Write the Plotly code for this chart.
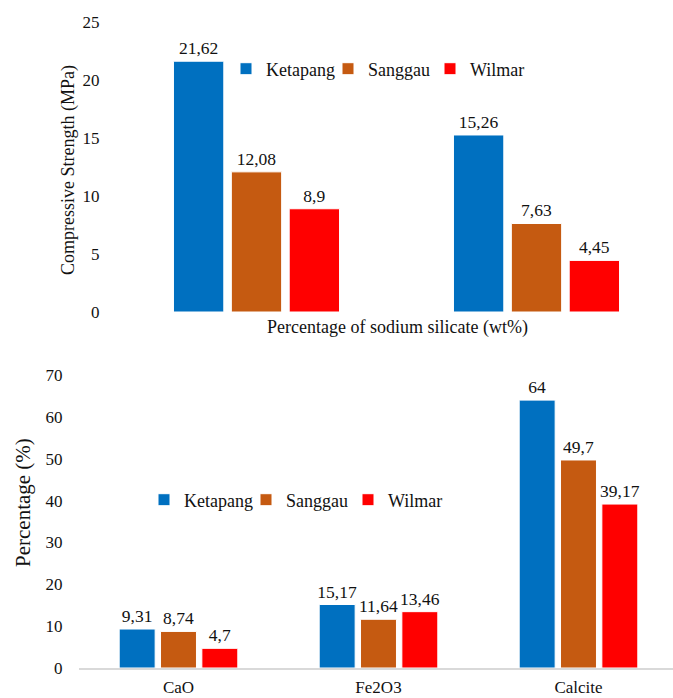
import plotly.graph_objects as go

series = ["Ketapang", "Sanggau", "Wilmar"]
colors = ["#0070C0", "#C55A11", "#FF0000"]

# Top chart: compressive strength (two unlabeled groups)
top_categories = ["A", "B"]
top_values = {
    "Ketapang": [21.62, 15.26],
    "Sanggau": [12.08, 7.63],
    "Wilmar": [8.9, 4.45],
}

# Bottom chart: composition percentage
bot_categories = ["CaO", "Fe2O3", "Calcite"]
bot_values = {
    "Ketapang": [9.31, 15.17, 64],
    "Sanggau": [8.74, 11.64, 49.7],
    "Wilmar": [4.7, 13.46, 39.17],
}

top_ticks = [0, 5, 10, 15, 20, 25]
bot_ticks = [0, 10, 20, 30, 40, 50, 60, 70]

W, H = 673, 698
FONT = "Times New Roman, Liberation Serif, serif"
TXT = "#111111"


def fmt(v):
    return ("%g" % v).replace(".", ",")


fig = go.Figure()
for name, col in zip(series, colors):
    fig.add_trace(go.Bar(
        x=top_categories, y=top_values[name], name=name,
        marker=dict(color=col, line=dict(color="white", width=1)),
        text=[fmt(v) for v in top_values[name]], textposition="outside",
        constraintext="none",
        textfont=dict(family=FONT, size=17.5, color=TXT),
        cliponaxis=False, xaxis="x", yaxis="y", legend="legend",
    ))
for name, col in zip(series, colors):
    fig.add_trace(go.Bar(
        x=bot_categories, y=bot_values[name], name=name,
        marker=dict(color=col, line=dict(color="white", width=1)),
        text=[fmt(v) for v in bot_values[name]], textposition="outside",
        constraintext="none",
        textfont=dict(family=FONT, size=17.5, color=TXT),
        cliponaxis=False, xaxis="x2", yaxis="y2", legend="legend2",
    ))

top_left = 116.5
bot_left = 78.5
leg_common = dict(orientation="h", xanchor="left", yanchor="middle",
                  font=dict(family=FONT, size=18), bgcolor="rgba(0,0,0,0)",
                  itemwidth=30, traceorder="normal",
                  entrywidthmode="pixels", entrywidth=57)
fig.update_layout(
    width=W, height=H,
    margin=dict(l=0, r=0, t=0, b=0, autoexpand=False),
    paper_bgcolor="white", plot_bgcolor="white",
    font=dict(family=FONT, size=17, color=TXT),
    barmode="group", bargap=0.38, bargroupgap=0.13,
    uniformtext=dict(mode=False),
    xaxis=dict(domain=[top_left / W, 1], range=[-0.5, (W - top_left) / 280 - 0.5],
               showticklabels=False, showline=False, showgrid=False, zeroline=False,
               automargin=False, anchor="y"),
    yaxis=dict(domain=[1 - 312 / H, 1 - 22 / H], range=[0, 25], tickvals=top_ticks,
               showgrid=False, zeroline=False, showline=False, automargin=False,
               ticklabelstandoff=16, tickfont=dict(family=FONT, size=17), anchor="x"),
    xaxis2=dict(domain=[bot_left / W, 1], range=[-0.5, (W - bot_left) / 200 - 0.5],
                showline=True, linecolor="#D9D9D9", linewidth=1.5, showgrid=False,
                zeroline=False, ticks="", ticklabelstandoff=3, automargin=False,
                tickfont=dict(family=FONT, size=17), anchor="y2"),
    yaxis2=dict(domain=[1 - 668 / H, 1 - 375 / H], range=[0, 70], tickvals=bot_ticks,
                showgrid=False, zeroline=False, showline=False, automargin=False,
                ticklabelstandoff=15, tickfont=dict(family=FONT, size=17), anchor="x2"),
    legend=dict(x=226 / W, y=1 - 69 / H, **leg_common),
    legend2=dict(x=144 / W, y=1 - 500 / H, **leg_common),
    annotations=[
        dict(text="Compressive Strength (MPa)", x=69 / W, y=1 - 170 / H, xref="paper", yref="paper",
             textangle=-90, showarrow=False, font=dict(family=FONT, size=18),
             xanchor="center", yanchor="middle"),
        dict(text="Percentage of sodium silicate (wt%)", x=397 / W, y=1 - 327 / H, xref="paper",
             yref="paper", showarrow=False, font=dict(family=FONT, size=18),
             xanchor="center", yanchor="middle"),
        dict(text="Percentage (%)", x=23 / W, y=1 - 503 / H, xref="paper", yref="paper",
             textangle=-90, showarrow=False, font=dict(family=FONT, size=21),
             xanchor="center", yanchor="middle"),
    ],
)

fig.write_html("out.html", config={"displayModeBar": False},
               post_script="document.body.style.margin='0';document.body.style.overflow='hidden';")
